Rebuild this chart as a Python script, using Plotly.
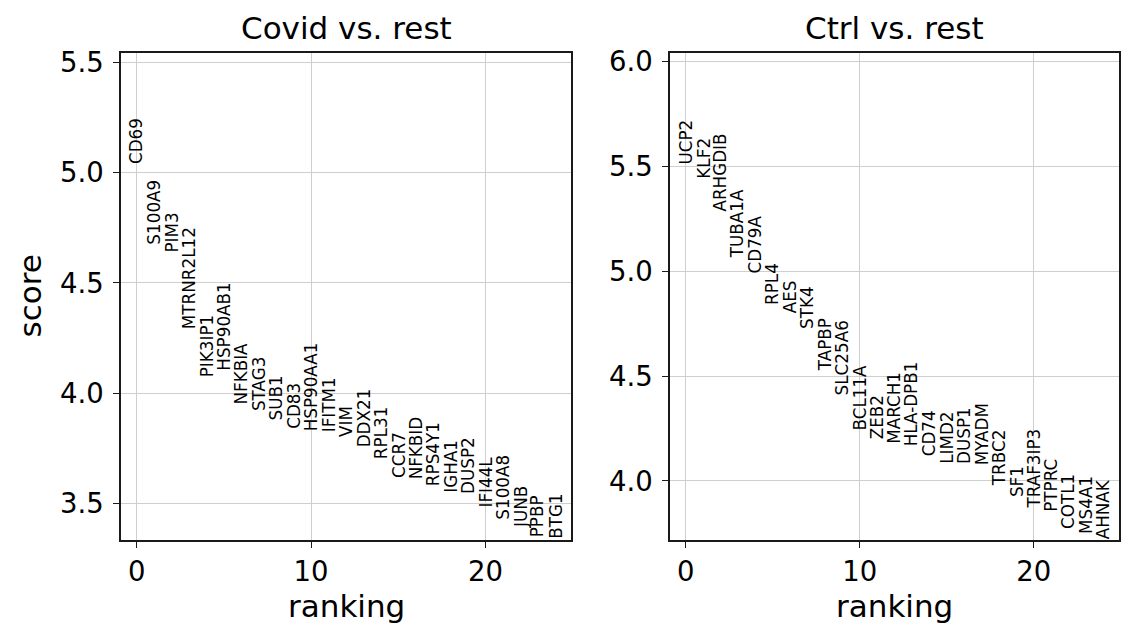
import plotly.graph_objects as go

# the page body adds an 8px margin, so the paper is laid out in screen px minus 8
OFF = 8
W, H = 1135 - 2 * OFF, 642 - 2 * OFF

covid_genes = ["CD69", "S100A9", "PIM3", "MTRNR2L12", "PIK3IP1", "HSP90AB1", "NFKBIA",
               "STAG3", "SUB1", "CD83", "HSP90AA1", "IFITM1", "VIM", "DDX21", "RPL31",
               "CCR7", "NFKBID", "RPS4Y1", "IGHA1", "DUSP2", "IFI44L", "S100A8", "JUNB",
               "PPBP", "BTG1"]
covid_scores = [5.034, 4.668, 4.632, 4.286, 4.067, 4.097, 3.945, 3.913, 3.870, 3.832,
                3.820, 3.818, 3.794, 3.749, 3.695, 3.612, 3.605, 3.574, 3.544, 3.536,
                3.476, 3.423, 3.385, 3.340, 3.333]

ctrl_genes = ["UCP2", "KLF2", "ARHGDIB", "TUBA1A", "CD79A", "RPL4", "AES", "STK4", "TAPBP",
              "SLC25A6", "BCL11A", "ZEB2", "MARCH1", "HLA-DPB1", "CD74", "LIMD2", "DUSP1",
              "MYADM", "TRBC2", "SF1", "TRAF3IP3", "PTPRC", "COTL1", "MS4A1", "AHNAK"]
ctrl_scores = [5.505, 5.435, 5.282, 5.059, 4.986, 4.833, 4.793, 4.720, 4.520, 4.402,
               4.234, 4.194, 4.170, 4.162, 4.114, 4.075, 4.074, 4.067, 3.972, 3.917,
               3.862, 3.846, 3.766, 3.742, 3.718]

titles = ["Covid vs. rest", "Ctrl vs. rest"]
x_ticks = [0, 10, 20]

FONT = "DejaVu Sans"
TICK_SIZE = 27.5
LABEL_SIZE = 31
GENE_SIZE = 16.8


def px(x):
    return (x - OFF) / W


def py(y):
    return 1 - (y - OFF) / H


panels = [(covid_genes, covid_scores), (ctrl_genes, ctrl_scores)]
xdoms = [[px(121), px(571)], [px(670), px(1119)]]
ydom = [py(540), py(53)]

fig = go.Figure()
annotations = []
for i, (genes, scores) in enumerate(panels):
    xa = "x" if i == 0 else "x2"
    ya = "y" if i == 0 else "y2"
    ranks = list(range(len(genes)))
    fig.add_trace(go.Scatter(x=ranks, y=scores, mode="markers", marker=dict(opacity=0),
                             hoverinfo="skip", showlegend=False, xaxis=xa, yaxis=ya))
    for r, g, s in zip(ranks, genes, scores):
        annotations.append(dict(x=r, y=s, xref=xa, yref=ya, text=g, showarrow=False,
                                textangle=-90, xanchor="center", yanchor="bottom",
                                borderpad=0, font=dict(family=FONT, size=GENE_SIZE, color="black")))
    ymin = min(scores)
    ymax = max(scores)
    ymax += 0.3 * (ymax - ymin)
    axis_common = dict(showline=True, linecolor="#1a1a1a", linewidth=1.6, mirror=True,
                       ticks="outside", ticklen=6, tickwidth=1.3, tickcolor="#1a1a1a",
                       showgrid=True, gridcolor="#cfcfcf", gridwidth=1.3, zeroline=False,
                       automargin=False,
                       tickfont=dict(family=FONT, size=TICK_SIZE, color="black"))
    fig.layout[("xaxis" if i == 0 else "xaxis2")] = dict(
        domain=xdoms[i], range=[-0.9, len(genes) - 0.1], tickvals=x_ticks,
        anchor=ya, **axis_common)
    fig.layout[("yaxis" if i == 0 else "yaxis2")] = dict(
        domain=ydom, range=[ymin, ymax], dtick=0.5, tickformat=".1f",
        anchor=xa, ticklabelstandoff=4, **axis_common)
    xc = (xdoms[i][0] + xdoms[i][1]) / 2
    annotations.append(dict(x=xc, y=py(28), xref="paper", yref="paper", text=titles[i],
                            showarrow=False, xanchor="center", yanchor="middle",
                            font=dict(family=FONT, size=LABEL_SIZE, color="black")))
    annotations.append(dict(x=xc, y=py(606), xref="paper", yref="paper", text="ranking",
                            showarrow=False, xanchor="center", yanchor="middle",
                            font=dict(family=FONT, size=LABEL_SIZE, color="black")))

annotations.append(dict(x=px(29), y=(ydom[0] + ydom[1]) / 2, xref="paper", yref="paper",
                        text="score", showarrow=False, textangle=-90, xanchor="center",
                        yanchor="middle", font=dict(family=FONT, size=LABEL_SIZE, color="black")))

fig.update_layout(width=W, height=H, margin=dict(l=0, r=0, t=0, b=0, pad=0, autoexpand=False),
                  paper_bgcolor="white", plot_bgcolor="white",
                  annotations=annotations, showlegend=False,
                  font=dict(family=FONT, color="black"))

fig.write_html("out.html")
